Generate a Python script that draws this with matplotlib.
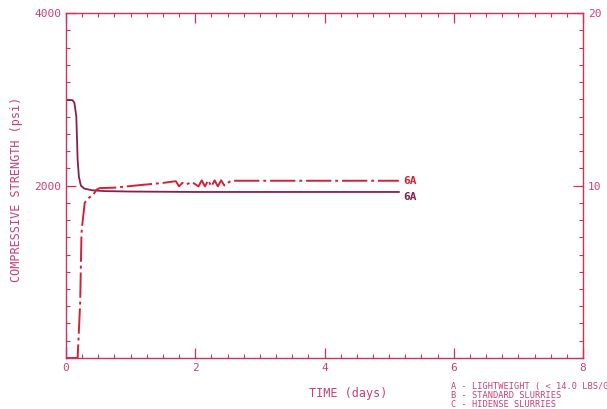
import matplotlib
matplotlib.use("Agg")
import matplotlib.pyplot as plt
from matplotlib.ticker import MultipleLocator, FixedLocator

# 6A curves, time in days vs compressive strength in psi
days_solid = [0.0, 0.10, 0.13, 0.16, 0.18, 0.20, 0.23, 0.28, 0.40, 0.60, 1.0, 2.0, 3.0, 4.0, 5.15]
psi_solid = [2990, 2990, 2960, 2800, 2300, 2100, 2000, 1965, 1945, 1935, 1930, 1925, 1925, 1925, 1925]

days_dash = [0.0, 0.18, 0.22, 0.24, 0.26, 0.29, 0.34, 0.42, 0.47, 0.52, 0.75, 1.15, 1.50,
             1.70, 1.75, 1.80, 1.85, 1.95, 2.05, 2.10, 2.15, 2.20, 2.25, 2.30, 2.35, 2.40,
             2.45, 2.55, 3.0, 4.0, 5.15]
psi_dash = [0, 0, 650, 1450, 1600, 1800, 1850, 1890, 1950, 1970, 1975, 2005, 2030,
            2050, 1990, 2030, 2010, 2040, 1990, 2060, 1990, 2060, 1990, 2060, 1990, 2060,
            2000, 2055, 2055, 2055, 2055]

legend_lines = ["A - LIGHTWEIGHT ( < 14.0 LBS/G",
                "B - STANDARD SLURRIES",
                "C - HIDENSE SLURRIES"]

axis_col = "#d0305a"
text_col = "#c8407a"
solid_col = "#8a1e4e"
dash_col = "#d42038"

plt.rcParams['font.family'] = ['DejaVu Sans Mono']

fig = plt.figure(figsize=(6.07, 4.09), dpi=100)
ax = fig.add_axes([0.1087, 0.1247, 0.8518, 0.8435])

ax.plot(days_solid, psi_solid, color=solid_col, lw=1.3)
ax.plot(days_dash, psi_dash, color=dash_col, lw=1.4, dashes=(13, 2, 1.5, 2))

ax.text(5.22, psi_dash[-1], "6A", color=dash_col, fontsize=8, fontweight="bold", va="center")
ax.text(5.22, psi_solid[-1] - 60, "6A", color=solid_col, fontsize=8, fontweight="bold", va="center")

ax.set_xlim(0, 8)
ax.set_ylim(0, 4000)
ax.xaxis.set_major_locator(FixedLocator([0, 2, 4, 6, 8]))
ax.xaxis.set_minor_locator(MultipleLocator(0.25))
ax.yaxis.set_major_locator(FixedLocator([2000, 4000]))
ax.yaxis.set_minor_locator(MultipleLocator(200))
ax.set_yticklabels(["2000", "4000"])
ax.tick_params(which="both", direction="in", colors=axis_col, labelcolor=text_col,
               labelsize=8, top=True)
ax.tick_params(which="major", length=7, width=0.9)
ax.tick_params(which="minor", length=3, width=0.8)
for s in ax.spines.values():
    s.set_color(axis_col)
    s.set_linewidth(1.0)

ax.set_xlabel("TIME (days)", color=text_col, fontsize=8.5)
ax.xaxis.set_label_coords(0.545, -0.085)
ax.set_ylabel("COMPRESSIVE STRENGTH (psi)", color=text_col, fontsize=8.5)
ax.yaxis.set_label_coords(-0.084, 0.49)

ax2 = ax.twinx()
ax2.set_ylim(0, 20)
ax2.yaxis.set_major_locator(FixedLocator([10, 20]))
ax2.yaxis.set_minor_locator(MultipleLocator(1))
ax2.tick_params(which="both", direction="in", colors=axis_col, labelcolor=text_col, labelsize=8)
ax2.tick_params(which="major", length=7, width=0.9)
ax2.tick_params(which="minor", length=3, width=0.8)
for s in ax2.spines.values():
    s.set_visible(False)

for i, line in enumerate(legend_lines):
    fig.text(0.743, 0.056 - i * 0.022, line, color=text_col, fontsize=6.2, va="center")

fig.savefig("out.png", dpi=100)
